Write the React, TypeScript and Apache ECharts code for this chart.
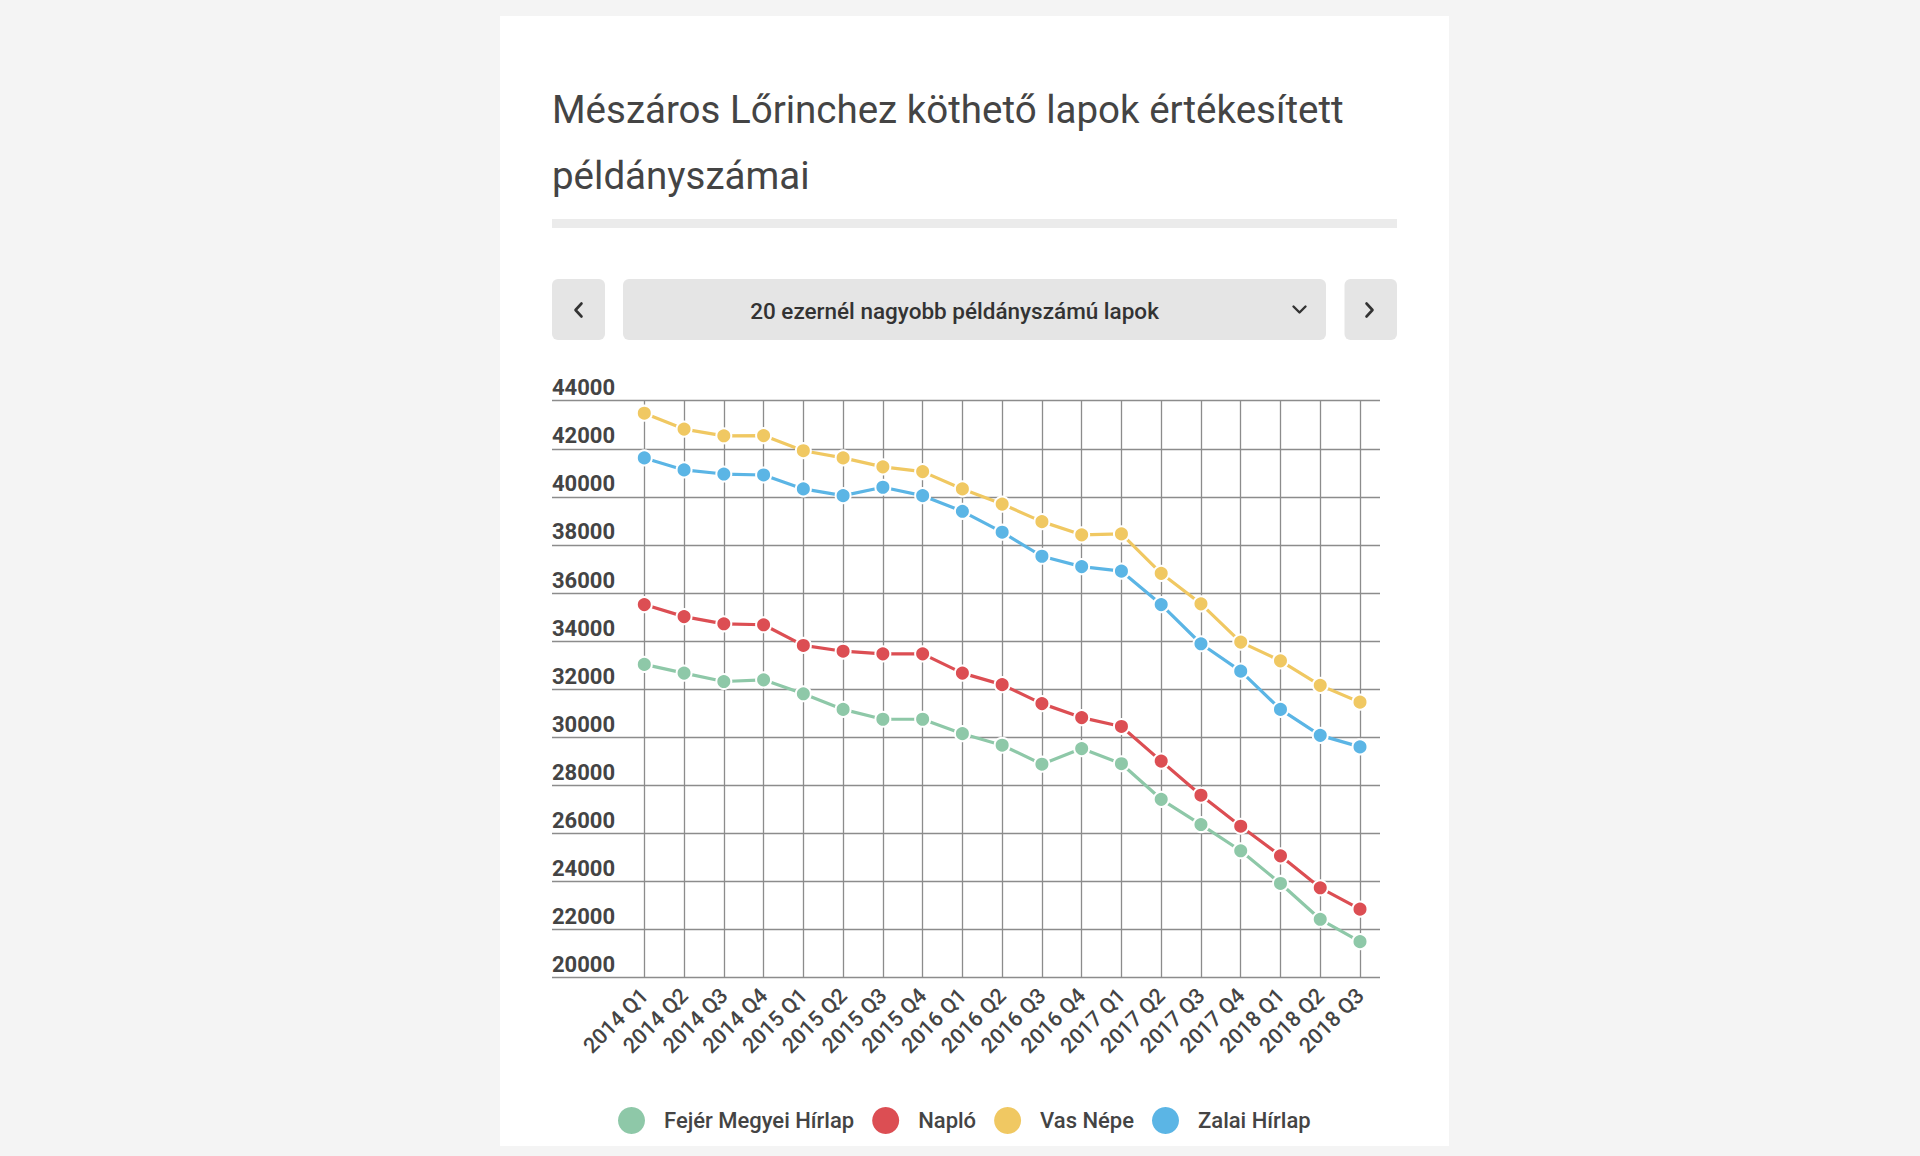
import React, { useEffect, useRef } from "react";
import * as echarts from "echarts";

const categories = [
  "2014 Q1", "2014 Q2", "2014 Q3", "2014 Q4",
  "2015 Q1", "2015 Q2", "2015 Q3", "2015 Q4",
  "2016 Q1", "2016 Q2", "2016 Q3", "2016 Q4",
  "2017 Q1", "2017 Q2", "2017 Q3", "2017 Q4",
  "2018 Q1", "2018 Q2", "2018 Q3",
];

const seriesNames = ["Fejér Megyei Hírlap", "Napló", "Vas Népe", "Zalai Hírlap"];
const seriesColors = ["#8ec8a8", "#dc4e53", "#f0c862", "#5bb5e5"];

const fejer = [33030, 32670, 32320, 32390, 31810, 31160, 30750, 30750, 30150, 29670, 28880, 29530, 28900, 27420, 26370, 25280, 23920, 22430, 21500];
const naplo = [35520, 35020, 34720, 34680, 33820, 33580, 33470, 33470, 32670, 32190, 31400, 30820, 30450, 29010, 27590, 26300, 25070, 23740, 22850];
const vasNepe = [43480, 42820, 42540, 42550, 41920, 41620, 41250, 41050, 40330, 39700, 38970, 38420, 38460, 36820, 35550, 33960, 33180, 32160, 31460];
const zalai = [41620, 41120, 40950, 40910, 40330, 40050, 40400, 40050, 39400, 38530, 37530, 37100, 36910, 35520, 33890, 32750, 31160, 30080, 29600];

const yMin = 20000;
const yMax = 44000;
const yInterval = 2000;

const titleLines = ["Mészáros Lőrinchez köthető lapok értékesített", "példányszámai"];
const selectLabel = "20 ezernél nagyobb példányszámú lapok";

const FONT = "Roboto, 'Noto Sans', sans-serif";

export default function App() {
  const ref = useRef<HTMLDivElement>(null);

  useEffect(() => {
    if (!ref.current) return;
    const chart = echarts.init(ref.current, null, { renderer: "svg" });
    const data = [fejer, naplo, vasNepe, zalai];

    const option = {
      animation: false,
      backgroundColor: "#f4f4f4",
      graphic: [
        { type: "rect", z: -10, shape: { x: 500, y: 16, width: 949, height: 1130 }, style: { fill: "#ffffff" } },
        {
          type: "text", x: 552, y: 109,
          style: { text: titleLines[0], font: `400 38.5px ${FONT}`, fill: "#444444", verticalAlign: "middle", align: "left" },
        },
        {
          type: "text", x: 552, y: 175.5,
          style: { text: titleLines[1], font: `400 38.5px ${FONT}`, fill: "#444444", verticalAlign: "middle", align: "left" },
        },
        { type: "rect", shape: { x: 552, y: 219, width: 845, height: 9 }, style: { fill: "#ebebeb" } },
        { type: "rect", shape: { x: 552, y: 279, width: 53, height: 61, r: 6 }, style: { fill: "#e5e5e5" } },
        { type: "rect", shape: { x: 623, y: 279, width: 703, height: 61, r: 6 }, style: { fill: "#e5e5e5" } },
        { type: "rect", shape: { x: 1344.5, y: 279, width: 52.5, height: 61, r: 6 }, style: { fill: "#e5e5e5" } },
        {
          type: "polyline", shape: { points: [[581.5, 303.5], [575.5, 310], [581.5, 316.5]] },
          style: { stroke: "#333", lineWidth: 2.6, fill: "none", lineCap: "round", lineJoin: "round" },
        },
        {
          type: "polyline", shape: { points: [[1366.5, 303.5], [1372.5, 310], [1366.5, 316.5]] },
          style: { stroke: "#333", lineWidth: 2.6, fill: "none", lineCap: "round", lineJoin: "round" },
        },
        {
          type: "polyline", shape: { points: [[1293.5, 306.5], [1299.5, 312.5], [1305.5, 306.5]] },
          style: { stroke: "#333", lineWidth: 2.4, fill: "none", lineCap: "round", lineJoin: "round" },
        },
        {
          type: "text", x: 954.5, y: 310.5,
          style: { text: selectLabel, font: `500 22.5px ${FONT}`, fill: "#333", verticalAlign: "middle", align: "center" },
        },
      ],
      legend: {
        left: 613,
        top: 1102,
        icon: "circle",
        itemWidth: 27,
        itemHeight: 27,
        itemGap: 18,
        data: seriesNames,
        itemStyle: { borderWidth: 0 },
        textStyle: { fontFamily: FONT, fontSize: 22, fontWeight: 500, color: "#444", padding: [0, 0, 0, 14] },
      },
      grid: [
        { left: 644.3, right: 560, top: 400.7, bottom: 178.3 },
        { left: 552, right: 540, top: 400.7, bottom: 178.3 },
      ],
      xAxis: [
        {
          type: "category",
          gridIndex: 0,
          data: categories,
          boundaryGap: false,
          axisLine: { show: false },
          axisTick: { show: false },
          splitLine: { show: true, interval: 0, lineStyle: { color: "#8c8c8c", width: 1.3 } },
          axisLabel: {
            interval: 0,
            rotate: 45,
            margin: 14,
            fontFamily: FONT,
            fontSize: 21.5,
            fontWeight: 500,
            color: "#444",
          },
        },
        { type: "value", gridIndex: 1, min: 0, max: 1, show: false },
      ],
      yAxis: [
        { type: "value", gridIndex: 0, min: yMin, max: yMax, interval: yInterval, show: false },
        {
          type: "value",
          gridIndex: 1,
          min: yMin,
          max: yMax,
          interval: yInterval,
          axisLine: { show: false },
          axisTick: { show: false },
          splitLine: { show: true, lineStyle: { color: "#8c8c8c", width: 1.3 } },
          axisLabel: {
            inside: true,
            margin: 0,
            verticalAlign: "bottom",
            padding: [0, 0, 2, 0],
            fontFamily: FONT,
            fontSize: 22,
            fontWeight: "bold",
            color: "#444",
            formatter: (v: number) => String(v),
          },
        },
      ],
      series: seriesNames.map((name, i) => ({
        name,
        type: "line",
        xAxisIndex: 0,
        yAxisIndex: 0,
        data: data[i],
        color: seriesColors[i],
        symbol: "circle",
        symbolSize: 15,
        lineStyle: { width: 3.2, color: seriesColors[i] },
        itemStyle: { color: seriesColors[i], borderColor: "#ffffff", borderWidth: 2 },
        emphasis: { disabled: true },
        z: 3 + i,
      })),
    };

    chart.setOption(option as any);
    return () => chart.dispose();
  }, []);

  return (
    <div
      ref={ref}
      style={{ position: "fixed", left: 0, top: 0, width: "1920px", height: "1156px" }}
    />
  );
}
